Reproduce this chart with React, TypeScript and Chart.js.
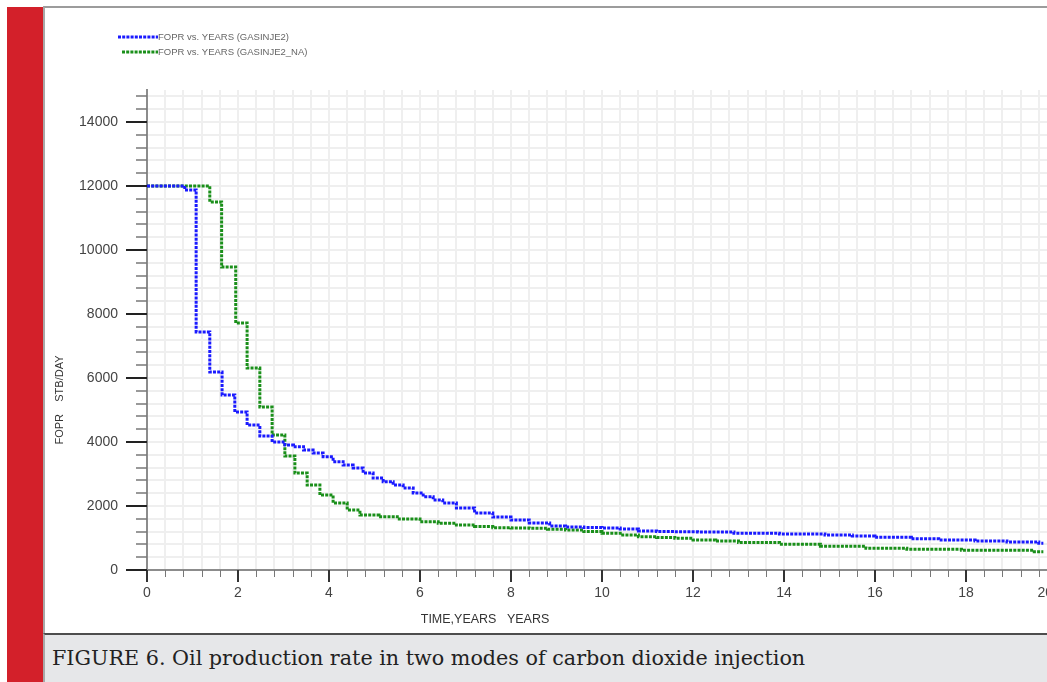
import React, { useEffect, useRef } from "react";
import { Chart, registerables } from "chart.js";

Chart.register(...registerables);

// FOPR step series (years, STB/DAY); each rate holds from its year to the next one
const gasinje2Years = [
  0, 0.83, 1.08, 1.38, 1.65, 1.93, 2.2, 2.48, 2.75, 3.03, 3.22, 3.44, 3.65, 3.87, 4.09, 4.31,
  4.53, 4.75, 4.97, 5.19, 5.41, 5.63, 5.85, 6.07, 6.29, 6.5, 6.8, 7.2, 7.6, 8.0, 8.4, 8.85,
  9.2, 9.6, 10.0, 10.4, 10.8, 11.2, 11.6, 12.1, 12.9, 13.9, 14.9, 15.5, 16.0, 16.8, 17.4,
  18.2, 18.9, 19.6, 19.7,
];
const gasinje2Rates = [
  12000, 11875, 7440, 6187, 5469, 4937, 4531, 4187, 4000, 3906, 3853, 3750, 3656, 3540, 3384,
  3281, 3187, 3031, 2875, 2759, 2656, 2562, 2406, 2290, 2187, 2094, 1937, 1781, 1656, 1562,
  1469, 1375, 1344, 1325, 1312, 1281, 1219, 1205, 1195, 1190, 1150, 1125, 1094, 1062, 1022,
  978, 937, 906, 875, 834, 834,
];

const gasinje2NaYears = [
  0, 1.38, 1.64, 1.95, 2.2, 2.48, 2.75, 3.03, 3.25, 3.52, 3.8, 4.09, 4.4, 4.68, 5.1, 5.5, 6.0,
  6.4, 6.8, 7.2, 7.6, 8.0, 8.4, 8.8, 9.2, 9.6, 10.0, 10.4, 10.8, 11.2, 11.6, 12.0, 12.5, 13.0,
  13.9, 14.8, 15.8, 16.7, 17.9, 19.5, 19.7,
];
const gasinje2NaRates = [
  12000, 11500, 9470, 7720, 6310, 5090, 4220, 3560, 3030, 2656, 2344, 2094, 1875, 1719, 1666,
  1594, 1509, 1460, 1406, 1360, 1322, 1312, 1303, 1275, 1250, 1200, 1147, 1095, 1040, 1015,
  990, 940, 906, 860, 803, 740, 678, 647, 616, 572, 572,
];

const seriesLabels = ["FOPR vs. YEARS (GASINJE2)", "FOPR vs. YEARS (GASINJE2_NA)"];
const seriesColors = ["#1a1aff", "#1a8f1a"];

const xRange = [0, 20];
const xMinorStep = 0.4;
const xMajorStep = 2;
const yRange = [0, 15000];
const yMinorStep = 400;
const yMajorStep = 2000;

const xTitle = "TIME,YEARS   YEARS";
const yTitle = "FOPR    STB/DAY";
const caption = "FIGURE 6. Oil production rate in two modes of carbon dioxide injection";

const SANS = '"Liberation Sans", Arial, sans-serif';

const isMultiple = (v: number, step: number) =>
  Math.abs(v / step - Math.round(v / step)) < 1e-6;

const toPoints = (xs: number[], ys: number[]) => xs.map((x, i) => ({ x, y: ys[i] }));

// Tick marks, axis titles and the legend drawn over the chart
const overlayPlugin = {
  id: "overlay",
  afterDraw(chart: any) {
    const ctx: CanvasRenderingContext2D = chart.ctx;
    const area = chart.chartArea;
    const xs = chart.scales.x;
    const ys = chart.scales.y;
    ctx.save();

    xs.ticks.forEach((t: any) => {
      const px = Math.round(xs.getPixelForValue(t.value));
      const major = isMultiple(t.value, xMajorStep);
      ctx.strokeStyle = major ? "#333" : "#777";
      ctx.lineWidth = major ? 2 : 1;
      ctx.beginPath();
      ctx.moveTo(px + (major ? 0 : 0.5), area.bottom);
      ctx.lineTo(px + (major ? 0 : 0.5), area.bottom + (major ? 12 : 7));
      ctx.stroke();
    });

    ys.ticks.forEach((t: any) => {
      const py = Math.round(ys.getPixelForValue(t.value));
      const major = isMultiple(t.value, yMajorStep);
      ctx.strokeStyle = major ? "#222" : "#777";
      ctx.lineWidth = major ? 2 : 1.5;
      ctx.beginPath();
      ctx.moveTo(area.left - (major ? 21 : 11), py);
      ctx.lineTo(area.left, py);
      ctx.stroke();
    });

    // axis titles
    ctx.fillStyle = "#333";
    ctx.textAlign = "center";
    ctx.textBaseline = "middle";
    ctx.font = `12.5px ${SANS}`;
    ctx.fillText(xTitle, 441, 611);
    ctx.save();
    ctx.font = `11px ${SANS}`;
    ctx.translate(16, 391);
    ctx.rotate(-Math.PI / 2);
    ctx.fillText(yTitle, 0, 0);
    ctx.restore();

    // legend
    const rows = [
      { y: 28, x0: 74 },
      { y: 43, x0: 78 },
    ];
    rows.forEach((r, i) => {
      ctx.strokeStyle = seriesColors[i];
      ctx.lineWidth = 3;
      ctx.setLineDash([3, 1.2]);
      ctx.beginPath();
      ctx.moveTo(r.x0, r.y);
      ctx.lineTo(114, r.y);
      ctx.stroke();
      ctx.setLineDash([]);
      ctx.fillStyle = "#666";
      ctx.font = `9.5px ${SANS}`;
      ctx.textAlign = "left";
      ctx.fillText(seriesLabels[i], 114, r.y);
    });

    ctx.restore();
  },
};

export default function App() {
  const canvasRef = useRef<HTMLCanvasElement>(null);

  useEffect(() => {
    const canvas = canvasRef.current;
    if (!canvas) return;
    const chart = new Chart(canvas, {
      type: "line",
      data: {
        datasets: [
          {
            label: seriesLabels[0],
            data: toPoints(gasinje2Years, gasinje2Rates),
            borderColor: seriesColors[0],
            borderWidth: 3,
            borderDash: [3, 1.2],
            stepped: "before",
            pointRadius: 0,
            fill: false,
          },
          {
            label: seriesLabels[1],
            data: toPoints(gasinje2NaYears, gasinje2NaRates),
            borderColor: seriesColors[1],
            borderWidth: 3,
            borderDash: [3, 1.2],
            stepped: "before",
            pointRadius: 0,
            fill: false,
          },
        ],
      },
      options: {
        responsive: false,
        animation: false,
        devicePixelRatio: 1,
        layout: { padding: { left: 0, top: 81, right: 47, bottom: 0 } },
        plugins: {
          legend: { display: false },
          tooltip: { enabled: false },
        },
        scales: {
          x: {
            type: "linear",
            min: xRange[0],
            max: xRange[1],
            afterFit: (s: any) => {
              s.height = 64;
            },
            ticks: {
              stepSize: xMinorStep,
              autoSkip: false,
              maxRotation: 0,
              includeBounds: false,
              padding: 15,
              color: "#444",
              font: { family: SANS, size: 14 },
              callback: (v: any) => {
                const n = Number(v);
                if (!isMultiple(n, xMajorStep)) return "";
                const label = String(Math.round(n));
                // the closing label sits flush against the plot's right edge
                return n === xRange[1] ? label + "      " : label;
              },
            },
            grid: { color: "#efefef", lineWidth: 2, drawTicks: false },
            border: { color: "#8c8c8c", width: 2 },
          },
          y: {
            type: "linear",
            min: yRange[0],
            max: yRange[1],
            afterFit: (s: any) => {
              s.width = 103;
            },
            ticks: {
              stepSize: yMinorStep,
              autoSkip: false,
              includeBounds: false,
              padding: 29,
              color: "#444",
              font: { family: SANS, size: 14 },
              callback: (v: any) =>
                isMultiple(Number(v), yMajorStep) ? String(Math.round(Number(v))) : "",
            },
            grid: { color: "#efefef", lineWidth: 2, drawTicks: false },
            border: { color: "#8c8c8c", width: 2 },
          },
        },
      },
      plugins: [overlayPlugin],
    } as any);
    return () => chart.destroy();
  }, []);

  return (
    <div
      style={{
        position: "fixed",
        left: 0,
        top: 0,
        width: 1047,
        height: 682,
        overflow: "hidden",
        background: "#fff",
      }}
    >
      <div style={{ position: "absolute", left: 7, top: 7, width: 36, height: 675, background: "#d3202a" }} />
      <div
        style={{
          position: "absolute",
          left: 43,
          top: 6,
          width: 1004,
          height: 628,
          boxSizing: "border-box",
          borderTop: "2px solid #9c9c9c",
          borderLeft: "2px solid #a8a8a8",
          background: "#fff",
        }}
      />
      <canvas
        ref={canvasRef}
        width={1060}
        height={625}
        style={{ position: "absolute", left: 44, top: 9, width: 1060, height: 625 }}
      />
      <div
        style={{
          position: "absolute",
          left: 43,
          top: 633,
          width: 1004,
          height: 49,
          boxSizing: "border-box",
          background: "#e6e7e9",
          borderTop: "2px solid #4d4d4d",
          borderLeft: "2px solid #a8a8a8",
          paddingLeft: 7,
          font: '20.7px "DejaVu Serif", serif',
          lineHeight: "46px",
          color: "#222",
          whiteSpace: "nowrap",
        }}
      >
        {caption}
      </div>
    </div>
  );
}
